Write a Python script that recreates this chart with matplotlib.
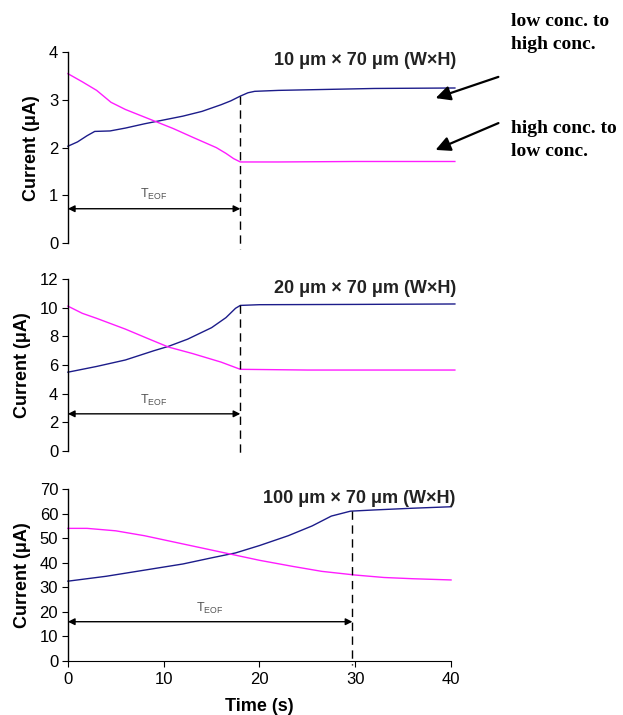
import matplotlib
matplotlib.use("Agg")
import matplotlib.pyplot as plt

# ---- data ----
t1_blue = [0, 1, 2, 2.8, 4.4, 6, 8, 10, 12, 14, 16, 17, 18, 18.8, 19.5, 22, 27, 32, 40.4]
i1_blue = [2.03, 2.12, 2.25, 2.34, 2.35, 2.41, 2.5, 2.58, 2.66, 2.76, 2.9, 2.98, 3.08, 3.15, 3.18, 3.2, 3.22, 3.24, 3.25]
t1_mag = [0, 1.5, 3, 4.5, 6, 8.5, 11, 13, 15.5, 16.5, 17.3, 18, 22, 30, 40.4]
i1_mag = [3.55, 3.38, 3.2, 2.95, 2.8, 2.6, 2.4, 2.22, 2.0, 1.88, 1.77, 1.7, 1.7, 1.71, 1.71]

t2_blue = [0, 3, 6, 9, 10.5, 12.5, 15, 16.5, 17.5, 18, 20, 30, 40.4]
i2_blue = [5.5, 5.9, 6.35, 7.0, 7.3, 7.8, 8.6, 9.3, 9.95, 10.15, 10.2, 10.22, 10.25]
t2_mag = [0, 1.5, 3, 6, 8.5, 10.5, 13, 16, 18, 25, 40.4]
i2_mag = [10.1, 9.6, 9.25, 8.5, 7.8, 7.25, 6.8, 6.2, 5.7, 5.65, 5.65]

t3_blue = [0, 4, 8, 12, 15, 17.5, 20, 23, 25.5, 27.5, 29.5, 32, 36, 40]
i3_blue = [32.5, 34.5, 37, 39.5, 42, 44, 47, 51, 55, 59, 61, 61.5, 62.2, 62.8]
t3_mag = [0, 2, 5, 8, 11, 14, 17, 20, 23.5, 26.5, 30, 33, 36, 40]
i3_mag = [54, 54, 53, 51, 48.5, 46, 43.5, 41, 38.5, 36.5, 35, 34, 33.5, 33]

titles = ["10 \u03bcm \u00d7 70 \u03bcm (W\u00d7H)", "20 \u03bcm \u00d7 70 \u03bcm (W\u00d7H)", "100 \u03bcm \u00d7 70 \u03bcm (W\u00d7H)"]
ylims = [4, 12, 70]
yticks = [[0, 1, 2, 3, 4], [0, 2, 4, 6, 8, 10, 12], [0, 10, 20, 30, 40, 50, 60, 70]]
teof = [18, 18, 29.7]
teof_top = [3.08, 10.15, 61]
arrow_y = [0.72, 2.6, 16]
xticks = [0, 10, 20, 30, 40]

BLUE = "#1c1c8a"
MAG = "#ff1cff"

plt.rcParams['font.family'] = ['Liberation Sans', 'DejaVu Sans']
fig = plt.figure(figsize=(6.23, 7.15), dpi=100)

boxes = [(0.109, 0.660, 0.615, 0.267), (0.109, 0.369, 0.615, 0.241), (0.109, 0.0755, 0.615, 0.2405)]
data = [(t1_blue, i1_blue, t1_mag, i1_mag), (t2_blue, i2_blue, t2_mag, i2_mag), (t3_blue, i3_blue, t3_mag, i3_mag)]

for k in range(3):
    ax = fig.add_axes(boxes[k])
    tb, ib, tm, im = data[k]
    ax.plot(tb, ib, color=BLUE, lw=1.0, clip_on=False)
    ax.plot(tm, im, color=MAG, lw=1.0, clip_on=False)
    ax.set_xlim(0, 40)
    ax.set_ylim(0, ylims[k])
    ax.set_yticks(yticks[k])
    for s in ["top", "right"]:
        ax.spines[s].set_visible(False)
    ax.spines["left"].set_linewidth(1.0)
    ax.tick_params(axis="y", direction="out", length=4, labelsize=12, pad=3)
    if k < 2:
        ax.spines["bottom"].set_visible(False)
        ax.set_xticks([])
        bottom_ext = -ylims[k] * 0.03
    else:
        ax.set_xticks(xticks)
        ax.tick_params(axis="x", direction="out", length=4, labelsize=12, pad=4)
        ax.set_xlabel("Time (s)", fontsize=13, fontweight="bold", labelpad=8)
        bottom_ext = -ylims[k] * 0.025
    ax.set_ylabel("Current (\u03bcA)", fontsize=13, fontweight="bold", labelpad=6)
    # dashed TEOF line
    ax.plot([teof[k], teof[k]], [teof_top[k], bottom_ext], color="black", lw=1.0,
            ls=(0, (6, 4)), clip_on=False)
    # TEOF arrow
    ax.annotate("", xy=(0, arrow_y[k]), xytext=(teof[k], arrow_y[k]),
                arrowprops=dict(arrowstyle="<|-|>", color="black", lw=1.0,
                                mutation_scale=10, shrinkA=0, shrinkB=0))
    ax.text(teof[k] / 2, arrow_y[k] + ylims[k] * 0.035, r"T$_{\mathregular{EOF}}$",
            ha="center", va="bottom", fontsize=9, color="#555555")
    ax.text(40.5, ylims[k] * (0.955 if k == 0 else 0.945), titles[k], ha="right", va="center",
            fontsize=13, fontweight="bold", color="#222222")

# Right-side annotations (figure pixel coords)
def fx(px):
    return px / 623.0

def fy(py):
    return 1 - py / 715.0

fig.text(fx(511), fy(33), "low conc. to\nhigh conc.", ha="left", va="center",
         fontsize=14, fontweight="bold", family=["Liberation Serif", "DejaVu Serif"], linespacing=1.45)
fig.text(fx(511), fy(140), "high conc. to\nlow conc.", ha="left", va="center",
         fontsize=14, fontweight="bold", family=["Liberation Serif", "DejaVu Serif"], linespacing=1.45)

for (x0, y0, x1, y1) in [(501, 76, 433, 99), (501, 122, 433, 151)]:
    fig.add_artist(matplotlib.patches.FancyArrowPatch(
        (fx(x0), fy(y0)), (fx(x1), fy(y1)), transform=fig.transFigure,
        arrowstyle="-|>", mutation_scale=22, color="black", lw=1.6))

fig.savefig("out.png", dpi=100)
